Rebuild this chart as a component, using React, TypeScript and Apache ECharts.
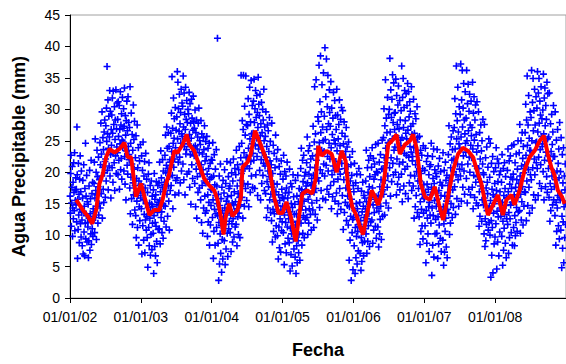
import React, { useEffect, useRef } from "react";
import * as echarts from "echarts";

// X-axis tick labels (one per year start)
const tickLabels = ["01/01/02", "01/01/03", "01/01/04", "01/01/05", "01/01/06", "01/01/07", "01/01/08"];
const firstYear = 2002;

const pw2002: number[][] = [
  [16.2, 13.5, 19.8, 22.7, 11.4, 15.1, 17.6, 20.9, 9.8, 14.3, 18.4, 12.6, 21.5, 16.8, 13.9, 23.1, 10.7, 17.2, 15.5, 19.1],
  [14.8, 17.3, 12.1, 27.2, 19.6, 6.3, 15.7, 10.9, 21.4, 13.2, 16.5, 8.8, 18.9, 14.1, 22.6, 11.8, 16.9, 9.7, 20.2, 13.6],
  [12.4, 8.3, 15.9, 18.7, 7.0, 13.8, 21.2, 10.5, 14.6, 6.7, 17.4, 11.9, 24.6, 9.4, 16.2, 13.1, 19.5, 8.9, 15.3, 12.0],
  [11.3, 14.9, 6.4, 9.1, 17.8, 12.7, 20.3, 7.6, 13.4, 15.8, 10.2, 21.9, 8.5, 12.1, 16.6, 11.0, 18.4, 9.8, 14.2, 13.0],
  [13.7, 18.2, 21.6, 10.4, 15.9, 25.3, 12.8, 17.1, 20.0, 9.3, 16.4, 23.5, 14.6, 19.3, 11.9, 17.7, 22.4, 13.2, 15.0, 18.8],
  [18.9, 24.7, 14.3, 21.2, 27.8, 16.6, 22.9, 19.4, 29.6, 12.7, 20.8, 25.5, 17.3, 23.6, 15.2, 26.4, 19.9, 28.3, 21.7, 16.0],
  [22.1, 27.4, 18.6, 30.2, 24.9, 36.8, 20.3, 26.1, 31.5, 17.2, 23.8, 28.9, 21.0, 25.6, 33.0, 19.4, 29.7, 22.8, 15.9, 26.8],
  [24.3, 29.1, 20.7, 31.8, 26.2, 18.4, 32.9, 23.0, 27.6, 21.5, 30.4, 17.1, 25.2, 28.3, 22.6, 33.1, 19.8, 26.9, 24.0, 31.0],
  [23.1, 28.4, 19.6, 31.2, 25.7, 21.9, 30.6, 17.3, 26.8, 24.5, 32.8, 20.4, 27.5, 22.2, 29.3, 18.9, 25.1, 31.9, 23.9, 27.0],
  [24.8, 30.1, 20.2, 27.3, 33.4, 22.5, 18.1, 29.0, 25.9, 15.6, 28.2, 23.4, 31.3, 21.1, 26.6, 19.7, 32.0, 24.1, 27.9, 22.8],
  [22.0, 27.1, 17.5, 33.6, 13.4, 24.6, 19.2, 29.4, 15.8, 21.3, 26.0, 11.7, 23.5, 18.3, 30.7, 16.4, 25.2, 20.5, 28.1, 14.0],
  [17.9, 22.3, 13.1, 25.8, 9.6, 19.0, 15.4, 27.5, 11.2, 20.7, 16.3, 23.9, 8.4, 18.6, 14.5, 21.8, 12.3, 17.0, 24.4, 15.9],
];
const pw2003: number[][] = [
  [18.1, 14.2, 22.6, 7.0, 16.7, 20.3, 11.5, 24.8, 15.6, 9.2, 19.4, 13.3, 21.7, 7.2, 17.5, 12.4, 23.0, 15.0, 10.8, 18.9],
  [13.0, 9.6, 16.8, 4.9, 14.4, 19.7, 11.2, 21.5, 8.3, 15.1, 12.7, 17.9, 6.8, 13.8, 10.1, 18.6, 14.9, 7.7, 16.2, 11.9],
  [14.5, 10.3, 17.2, 3.9, 13.1, 19.8, 8.2, 15.7, 12.0, 6.7, 16.4, 11.4, 18.5, 9.0, 14.8, 5.6, 13.6, 17.9, 10.9, 15.2],
  [14.1, 18.3, 11.0, 21.6, 15.5, 8.6, 16.9, 23.4, 12.8, 19.1, 13.7, 10.4, 17.6, 22.0, 15.0, 9.5, 20.2, 14.7, 12.2, 18.0],
  [18.4, 22.7, 14.6, 25.9, 19.9, 11.3, 21.1, 27.2, 16.5, 23.8, 13.0, 20.6, 17.8, 26.3, 15.4, 24.1, 10.8, 19.3, 22.0, 17.1],
  [21.6, 26.2, 17.9, 29.4, 23.3, 35.2, 19.5, 27.0, 14.2, 24.6, 31.8, 20.8, 25.4, 28.5, 22.1, 16.4, 30.3, 23.9, 18.7, 26.7],
  [23.0, 28.8, 19.1, 36.0, 25.3, 34.3, 21.6, 30.1, 16.7, 26.5, 32.4, 22.4, 27.7, 18.3, 29.5, 24.6, 33.2, 20.2, 26.1, 31.0],
  [25.7, 30.5, 21.3, 35.3, 27.2, 18.8, 32.6, 24.1, 29.2, 16.4, 26.8, 33.5, 22.9, 28.4, 23.6, 31.4, 19.7, 27.9, 25.0, 30.0],
  [24.5, 29.3, 20.1, 32.7, 26.0, 17.6, 30.9, 22.8, 27.8, 14.9, 25.4, 31.6, 21.2, 28.6, 23.3, 19.0, 26.7, 32.1, 24.0, 28.0],
  [22.6, 27.0, 18.2, 29.9, 24.2, 14.5, 26.3, 20.5, 28.3, 12.7, 23.7, 19.3, 25.6, 16.8, 27.8, 21.4, 30.2, 23.1, 17.5, 25.0],
  [19.8, 24.4, 15.6, 28.2, 21.2, 12.0, 26.1, 17.9, 22.9, 10.3, 20.4, 25.5, 14.3, 23.6, 18.6, 27.4, 16.2, 21.8, 13.5, 24.9],
  [18.3, 22.5, 13.9, 25.7, 19.7, 9.8, 16.4, 23.8, 12.1, 20.6, 15.2, 24.6, 8.4, 18.9, 21.4, 11.6, 17.3, 14.7, 22.0, 19.2],
];
const pw2004: number[][] = [
  [17.2, 21.9, 12.8, 24.7, 15.6, 6.3, 19.4, 10.6, 22.8, 14.1, 18.0, 8.4, 20.5, 16.3, 13.4, 23.6, 11.2, 17.8, 15.0, 41.3],
  [13.1, 8.7, 16.5, 2.8, 12.0, 19.4, 5.4, 14.7, 10.2, 21.3, 7.1, 15.8, 11.5, 4.1, 17.6, 9.3, 13.9, 6.2, 18.7, 12.4],
  [12.9, 16.7, 9.1, 20.4, 14.3, 5.3, 11.7, 18.2, 7.8, 15.4, 13.5, 21.7, 10.3, 16.1, 6.6, 14.9, 19.3, 11.0, 17.4, 12.2],
  [14.0, 17.8, 10.4, 21.5, 13.2, 7.4, 16.3, 19.9, 11.8, 15.1, 8.9, 18.6, 12.6, 22.1, 14.8, 9.7, 16.9, 13.7, 20.6, 11.3],
  [15.3, 19.6, 11.7, 23.5, 14.2, 8.3, 17.8, 21.2, 12.9, 16.6, 10.1, 20.4, 13.5, 24.1, 16.0, 9.6, 18.7, 14.8, 22.3, 35.4],
  [19.8, 24.6, 16.0, 28.2, 21.3, 12.7, 26.8, 35.4, 18.2, 23.1, 14.6, 30.5, 20.6, 25.9, 17.4, 35.3, 22.4, 27.6, 15.5, 21.0],
  [22.3, 27.4, 18.1, 31.7, 23.8, 14.5, 29.2, 20.6, 33.5, 25.3, 16.8, 28.0, 21.7, 34.6, 19.4, 26.1, 24.5, 30.6, 17.6, 23.0],
  [26.2, 31.3, 21.9, 34.8, 27.9, 17.4, 30.1, 24.2, 33.0, 19.6, 28.7, 25.4, 32.2, 22.5, 29.5, 16.3, 27.1, 35.1, 23.7, 30.8],
  [24.4, 29.0, 20.3, 32.4, 25.8, 15.6, 27.7, 22.0, 31.1, 18.2, 26.3, 23.1, 30.0, 19.5, 28.3, 21.4, 33.2, 25.0, 17.1, 27.2],
  [21.0, 25.7, 16.6, 29.6, 22.4, 12.8, 24.1, 18.5, 27.5, 14.3, 20.2, 26.6, 17.7, 23.3, 19.3, 28.7, 15.6, 21.8, 24.9, 13.6],
  [16.5, 21.2, 12.3, 27.8, 17.6, 8.9, 19.8, 14.1, 24.3, 10.6, 18.2, 23.0, 13.4, 15.3, 20.7, 9.7, 25.9, 16.9, 11.5, 22.1],
  [13.8, 18.1, 9.9, 23.6, 14.7, 6.2, 16.4, 11.3, 20.9, 8.0, 15.5, 12.6, 19.7, 7.3, 14.0, 21.8, 10.7, 17.3, 12.1, 16.0],
];
const pw2005: number[][] = [
  [14.6, 18.9, 10.4, 22.7, 15.8, 5.3, 13.2, 20.1, 8.6, 16.7, 12.0, 19.4, 7.2, 17.5, 14.1, 21.6, 11.3, 15.9, 9.5, 13.6],
  [12.6, 16.8, 8.8, 20.5, 13.7, 4.3, 11.1, 18.2, 6.9, 15.0, 10.2, 17.7, 5.1, 14.4, 12.0, 19.6, 9.4, 16.1, 7.8, 13.3],
  [10.8, 14.9, 6.5, 18.7, 11.6, 3.9, 13.4, 8.3, 16.2, 5.6, 12.2, 19.5, 9.1, 15.3, 7.2, 10.1, 17.4, 12.8, 6.0, 14.0],
  [16.3, 20.6, 11.9, 23.8, 17.2, 8.4, 14.6, 21.9, 10.3, 18.5, 13.1, 22.7, 15.4, 9.6, 19.4, 16.9, 12.5, 20.0, 14.0, 17.8],
  [17.0, 21.5, 12.8, 25.6, 18.3, 10.1, 15.7, 23.4, 11.9, 19.7, 14.2, 24.2, 16.5, 20.8, 13.3, 22.1, 17.9, 10.8, 19.0, 15.1],
  [18.0, 22.6, 14.0, 27.3, 19.5, 11.2, 16.8, 24.8, 33.6, 20.7, 13.3, 26.1, 17.4, 34.7, 21.9, 15.5, 23.7, 12.4, 19.1, 28.8],
  [22.8, 28.1, 18.6, 37.0, 24.7, 14.4, 31.2, 20.4, 38.5, 26.3, 17.1, 29.6, 23.5, 33.9, 19.8, 27.2, 15.8, 25.0, 35.8, 21.3],
  [23.3, 28.9, 19.4, 39.8, 25.2, 15.6, 32.0, 21.1, 38.0, 26.8, 17.3, 30.4, 22.5, 35.4, 20.2, 27.7, 16.5, 24.6, 33.1, 29.5],
  [22.1, 27.3, 17.9, 34.4, 23.9, 14.2, 30.2, 19.6, 26.0, 16.1, 28.6, 21.0, 32.7, 18.5, 25.1, 20.3, 31.4, 15.4, 24.5, 29.0],
  [21.7, 26.8, 16.7, 33.2, 23.4, 13.4, 29.1, 18.9, 25.3, 15.0, 27.6, 20.5, 31.5, 17.4, 24.2, 19.7, 28.4, 14.1, 22.9, 30.3],
  [21.4, 26.2, 16.3, 29.8, 22.7, 10.9, 24.5, 18.8, 28.0, 13.6, 20.6, 25.7, 15.2, 23.3, 17.5, 27.1, 12.3, 19.9, 24.0, 14.7],
  [16.2, 20.9, 11.6, 24.8, 17.3, 6.0, 14.5, 22.4, 9.2, 18.6, 13.0, 21.2, 2.8, 15.7, 19.5, 10.4, 23.3, 12.5, 4.5, 17.9],
];
const pw2006: number[][] = [
  [12.8, 16.9, 8.3, 21.4, 13.9, 3.9, 11.2, 18.3, 6.4, 15.0, 9.8, 19.7, 5.4, 14.2, 10.6, 17.4, 7.5, 13.1, 20.6, 11.7],
  [11.4, 15.2, 7.1, 19.6, 12.3, 4.4, 9.6, 17.0, 5.8, 13.7, 8.8, 18.4, 10.5, 14.6, 6.7, 16.3, 12.8, 9.0, 15.9, 11.0],
  [14.2, 18.6, 10.2, 23.5, 15.3, 7.1, 12.6, 20.7, 9.0, 16.8, 11.5, 21.9, 13.4, 17.7, 8.2, 19.3, 14.9, 22.6, 12.1, 16.0],
  [16.6, 20.8, 12.4, 23.9, 17.5, 8.7, 14.8, 22.2, 10.8, 18.9, 13.6, 21.3, 15.7, 19.6, 11.4, 24.4, 16.1, 9.5, 20.1, 14.3],
  [15.4, 19.9, 11.3, 24.6, 16.3, 8.1, 13.8, 21.6, 10.2, 17.7, 12.5, 22.8, 14.6, 18.8, 9.3, 20.5, 16.9, 25.1, 13.0, 17.2],
  [20.6, 25.5, 16.5, 30.1, 22.3, 13.2, 27.4, 18.7, 34.7, 23.8, 15.1, 28.6, 21.5, 26.3, 17.6, 31.9, 19.4, 24.7, 14.3, 29.2],
  [24.6, 30.0, 20.7, 38.1, 26.4, 16.2, 33.1, 22.3, 28.7, 18.5, 31.6, 25.3, 35.5, 21.4, 27.9, 19.6, 34.2, 23.5, 29.4, 26.8],
  [24.0, 29.5, 20.0, 34.8, 25.8, 16.4, 32.2, 22.1, 27.6, 18.1, 30.7, 23.9, 33.7, 19.2, 26.9, 21.3, 31.4, 17.2, 28.3, 25.1],
  [24.2, 29.8, 19.7, 36.9, 25.5, 15.3, 31.9, 21.6, 34.9, 27.1, 17.8, 30.3, 23.0, 33.0, 20.5, 28.2, 16.6, 26.2, 32.5, 22.7],
  [25.3, 30.6, 20.9, 34.1, 26.7, 15.8, 32.8, 22.4, 28.8, 18.3, 31.2, 24.1, 29.7, 19.5, 27.3, 23.2, 33.6, 17.1, 26.0, 21.8],
  [22.5, 27.7, 17.8, 31.6, 23.9, 12.7, 26.2, 19.4, 29.3, 14.5, 21.2, 28.5, 16.3, 24.8, 20.1, 30.4, 13.6, 25.5, 18.6, 23.0],
  [17.4, 21.9, 12.9, 25.7, 18.6, 8.5, 15.3, 23.5, 10.6, 19.8, 14.1, 22.7, 11.5, 16.5, 20.6, 9.4, 24.2, 13.5, 18.0, 15.8],
];
const pw2007: number[][] = [
  [15.9, 20.3, 11.5, 23.8, 16.8, 5.6, 13.9, 21.7, 8.7, 18.1, 12.7, 22.6, 10.2, 17.3, 14.5, 19.6, 7.4, 15.2, 20.9, 13.2],
  [16.4, 21.2, 11.9, 24.6, 17.6, 3.6, 14.3, 22.5, 8.4, 19.0, 13.1, 23.7, 6.5, 18.2, 15.5, 20.4, 10.2, 16.9, 12.5, 19.8],
  [14.6, 19.3, 10.3, 23.6, 15.7, 6.3, 12.9, 21.0, 8.6, 17.1, 11.6, 22.2, 13.8, 18.4, 9.5, 20.1, 16.3, 7.4, 14.0, 17.9],
  [13.4, 17.9, 9.2, 23.1, 14.5, 5.2, 11.8, 20.3, 7.3, 16.2, 10.6, 21.6, 12.7, 18.7, 8.1, 15.4, 19.5, 6.4, 14.1, 16.8],
  [17.9, 22.8, 13.5, 27.4, 19.1, 10.1, 16.2, 24.5, 11.9, 20.7, 15.0, 25.6, 18.6, 21.9, 12.8, 23.6, 17.2, 26.6, 14.4, 20.1],
  [22.1, 27.1, 17.7, 31.7, 23.7, 13.3, 29.3, 19.6, 36.9, 25.3, 15.8, 28.2, 21.3, 33.5, 18.8, 26.4, 14.6, 24.5, 30.4, 20.5],
  [23.8, 29.2, 19.4, 37.2, 25.6, 15.4, 31.5, 21.2, 36.2, 27.2, 17.6, 30.2, 22.6, 34.1, 20.2, 28.3, 16.5, 26.1, 32.8, 24.6],
  [23.2, 28.6, 19.0, 36.2, 25.0, 15.1, 30.9, 21.3, 34.0, 26.6, 17.3, 29.7, 22.4, 32.4, 20.0, 27.5, 16.4, 24.3, 31.3, 25.8],
  [22.3, 27.1, 17.6, 34.3, 23.7, 14.2, 29.4, 19.5, 32.0, 25.1, 16.0, 28.3, 21.0, 30.7, 18.4, 26.0, 15.1, 23.2, 31.2, 20.6],
  [19.3, 24.2, 14.7, 29.6, 20.6, 11.4, 16.9, 26.3, 13.0, 22.1, 17.8, 27.5, 18.5, 23.4, 12.2, 25.0, 15.6, 21.3, 28.4, 19.9],
  [14.8, 19.6, 10.2, 27.6, 15.9, 8.2, 12.6, 22.3, 9.1, 17.5, 11.7, 24.0, 13.9, 18.4, 16.6, 20.8, 10.8, 14.2, 25.3, 12.0],
  [14.6, 19.2, 10.0, 24.6, 15.5, 3.3, 12.3, 21.4, 6.8, 17.3, 11.2, 22.5, 4.0, 16.4, 13.5, 20.1, 8.6, 15.0, 18.2, 9.7],
];
const pw2008: number[][] = [
  [16.1, 20.7, 11.8, 23.9, 17.1, 4.6, 13.8, 22.1, 8.9, 18.5, 12.9, 21.4, 6.7, 15.4, 19.6, 10.5, 16.9, 14.3, 20.2, 13.0],
  [14.0, 18.4, 9.8, 22.8, 15.2, 5.2, 12.2, 20.6, 7.6, 16.3, 11.1, 21.5, 13.3, 17.4, 8.7, 19.3, 14.7, 6.4, 16.0, 12.6],
  [15.8, 20.3, 11.7, 23.7, 16.9, 7.1, 13.6, 21.8, 9.6, 18.1, 12.6, 22.6, 14.8, 19.2, 10.4, 17.4, 24.2, 15.2, 8.4, 18.9],
  [15.2, 19.7, 11.2, 24.4, 16.4, 8.3, 13.1, 21.5, 9.9, 17.6, 12.0, 22.9, 14.4, 18.8, 10.6, 20.5, 16.0, 25.0, 13.7, 17.0],
  [18.2, 23.1, 13.9, 27.6, 19.4, 10.3, 16.5, 25.0, 12.4, 21.0, 15.3, 26.3, 17.7, 22.2, 11.6, 24.1, 19.9, 14.6, 20.6, 16.9],
  [21.2, 26.3, 16.8, 30.8, 22.7, 12.3, 28.3, 18.6, 35.3, 24.3, 14.7, 27.5, 20.4, 32.2, 17.6, 25.4, 13.5, 23.5, 29.6, 19.6],
  [23.4, 28.7, 18.8, 36.2, 25.0, 14.3, 31.1, 20.7, 34.9, 26.6, 16.4, 29.8, 22.1, 33.2, 19.6, 27.5, 15.6, 24.7, 32.0, 21.5],
  [24.8, 30.2, 20.6, 36.0, 26.4, 16.3, 32.6, 22.4, 34.9, 27.8, 18.2, 31.3, 23.6, 29.1, 21.2, 33.6, 17.4, 25.7, 28.5, 24.1],
  [24.5, 29.9, 20.1, 35.6, 26.1, 15.6, 31.8, 21.9, 33.4, 27.4, 17.7, 30.6, 23.2, 28.4, 19.3, 34.3, 16.8, 25.3, 32.5, 22.6],
  [20.6, 25.6, 16.0, 32.6, 21.8, 12.2, 18.2, 27.7, 13.9, 23.3, 17.3, 29.2, 19.4, 24.4, 14.8, 26.4, 22.5, 30.6, 15.6, 20.0],
  [17.7, 22.5, 13.1, 29.6, 18.8, 8.4, 15.2, 25.1, 10.6, 20.2, 14.3, 26.8, 16.3, 21.4, 11.5, 23.7, 19.1, 9.4, 27.9, 16.0],
  [15.6, 20.1, 10.8, 25.5, 16.7, 4.8, 13.0, 22.8, 7.9, 18.3, 12.1, 23.9, 5.6, 14.5, 19.4, 9.6, 17.2, 21.3, 11.7, 15.0],
];
const yearlyData: number[][][] = [pw2002, pw2003, pw2004, pw2005, pw2006, pw2007, pw2008];

// Running mean (red line): dates and values
const maDates: string[] = [
  "2002-02-02", "2002-03-08", "2002-04-03", "2002-04-25", "2002-05-16", "2002-06-02", "2002-06-19", "2002-07-06",
  "2002-07-23", "2002-08-18", "2002-09-13", "2002-10-08", "2002-10-25", "2002-11-12", "2002-12-07", "2003-01-02",
  "2003-01-24", "2003-02-14", "2003-03-11", "2003-04-06", "2003-04-23", "2003-05-11", "2003-05-27", "2003-06-22",
  "2003-07-09", "2003-08-04", "2003-08-25", "2003-09-07", "2003-10-03", "2003-10-29", "2003-11-23", "2003-12-19",
  "2004-01-14", "2004-01-31", "2004-02-17", "2004-03-02", "2004-03-14", "2004-03-31", "2004-04-17", "2004-05-13",
  "2004-05-31", "2004-06-08", "2004-07-04", "2004-07-21", "2004-08-12", "2004-09-02", "2004-09-28", "2004-10-24",
  "2004-11-18", "2004-12-11", "2005-01-01", "2005-01-21", "2005-02-12", "2005-03-10", "2005-03-27", "2005-04-13",
  "2005-05-08", "2005-06-03", "2005-06-21", "2005-07-04", "2005-07-22", "2005-08-16", "2005-09-11", "2005-10-07",
  "2005-11-01", "2005-11-22", "2005-12-05", "2005-12-26", "2006-01-18", "2006-02-03", "2006-02-20", "2006-03-10",
  "2006-04-05", "2006-04-22", "2006-05-08", "2006-05-26", "2006-06-12", "2006-06-29", "2006-07-24", "2006-08-11",
  "2006-08-28", "2006-09-23", "2006-10-19", "2006-11-04", "2006-11-22", "2006-12-14", "2007-01-04", "2007-01-29",
  "2007-02-24", "2007-03-17", "2007-04-08", "2007-05-03", "2007-05-29", "2007-06-24", "2007-07-19", "2007-08-14",
  "2007-09-09", "2007-10-05", "2007-10-22", "2007-11-08", "2007-11-25", "2007-12-21", "2008-01-15", "2008-02-10",
  "2008-02-28", "2008-03-25", "2008-04-10", "2008-05-06", "2008-06-01", "2008-06-27", "2008-07-23", "2008-08-18",
  "2008-09-09", "2008-09-29", "2008-10-17", "2008-11-03", "2008-11-20", "2008-12-11", "2008-12-25",
];
const maValues: number[] = [
  15.6, 14.0, 13.0, 11.8, 14.0, 18.2, 19.7, 22.4,
  23.7, 23.1, 23.7, 24.7, 22.4, 22.4, 16.1, 18.2,
  15.6, 13.2, 14.0, 14.0, 15.6, 18.2, 19.7, 23.4,
  23.1, 24.4, 26.0, 24.4, 23.4, 21.1, 19.0, 17.9,
  17.1, 15.6, 13.0, 10.1, 13.0, 15.0, 13.0, 14.0,
  16.1, 20.8, 21.6, 22.9, 26.6, 25.0, 22.9, 20.8,
  16.1, 13.5, 13.5, 15.3, 13.0, 9.0, 13.0, 16.6,
  17.1, 16.6, 19.0, 24.2, 22.6, 23.4, 22.9, 20.0,
  23.4, 21.8, 17.7, 14.5, 13.0, 11.4, 10.1, 13.0,
  17.1, 16.1, 14.8, 16.4, 19.7, 24.4, 25.2, 26.0,
  22.9, 24.4, 25.0, 26.0, 23.9, 18.2, 16.1, 15.6,
  17.7, 15.0, 12.4, 16.1, 20.3, 22.9, 23.9, 23.4,
  22.4, 19.7, 18.2, 15.6, 13.2, 14.8, 16.4, 13.2,
  15.6, 16.4, 14.8, 17.1, 20.3, 22.4, 23.4, 25.0,
  25.8, 22.9, 20.8, 19.5, 17.1, 16.1, 15.0,
];

function isLeap(y: number) {
  return (y % 4 === 0 && y % 100 !== 0) || y % 400 === 0;
}
function dateToYear(s: string): number {
  const [y, m, d] = s.split("-").map(Number);
  const start = Date.UTC(y, 0, 1);
  const doy = (Date.UTC(y, m - 1, d) - start) / 86400000;
  return y + doy / (isLeap(y) ? 366 : 365);
}

const FONT = "'Liberation Sans', Arial, Helvetica, sans-serif";
const PLUS = "path://M2.7,0H4.3V7H2.7Z M0,2.7H7V4.3H0Z";

export default function App() {
  const ref = useRef<HTMLDivElement>(null);
  useEffect(() => {
    if (!ref.current) return;
    const chart = echarts.init(ref.current, undefined, { renderer: "svg" });

    const scatterData: number[][] = [];
    yearlyData.forEach((months, yi) => {
      months.forEach((vals, mi) => {
        vals.forEach((v, i) => {
          scatterData.push([firstYear + yi + (mi + (i + 0.5) / vals.length) / 12, v]);
        });
      });
    });
    const lineData = maDates.map((d, i) => [dateToYear(d), maValues[i]]);

    chart.setOption({
      animation: false,
      backgroundColor: "#ffffff",
      grid: {
        left: 70,
        right: -1,
        top: 15,
        bottom: 61,
        show: true,
        borderColor: "#a0a0a0",
        borderWidth: 1,
      },
      xAxis: {
        type: "value",
        min: 2002,
        max: 2009,
        interval: 1,
        axisLine: { show: true, lineStyle: { color: "#000", width: 1 } },
        axisTick: { show: true, length: 5, lineStyle: { color: "#000" } },
        axisLabel: {
          fontSize: 14,
          fontFamily: FONT,
          color: "#000",
          margin: 12,
          showMaxLabel: false,
          formatter: (v: number) => tickLabels[Math.round(v - firstYear)] ?? "",
        },
        splitLine: { show: false },
        name: "Fecha",
        nameLocation: "middle",
        nameGap: 43,
        nameTextStyle: { fontSize: 18, fontWeight: "bold", fontFamily: FONT, color: "#000" },
      },
      yAxis: {
        type: "value",
        min: 0,
        max: 45,
        interval: 5,
        axisLine: { show: true, lineStyle: { color: "#000", width: 1 } },
        axisTick: { show: true, length: 5, lineStyle: { color: "#000" } },
        axisLabel: { fontSize: 14, fontFamily: FONT, color: "#000", margin: 10 },
        splitLine: { show: false },
        name: "Agua Precipitable (mm)",
        nameLocation: "middle",
        nameGap: 42,
        nameTextStyle: { fontSize: 18, fontWeight: "bold", fontFamily: FONT, color: "#000" },
      },
      series: [
        {
          type: "scatter",
          data: scatterData,
          symbol: PLUS,
          symbolSize: 7,
          itemStyle: { color: "#0000ff", opacity: 1 },
          silent: true,
          z: 2,
        },
        {
          type: "line",
          data: lineData,
          showSymbol: false,
          symbol: "none",
          lineStyle: { color: "#ff0000", width: 4 },
          silent: true,
          z: 3,
        },
      ],
    });
    return () => chart.dispose();
  }, []);
  return (
    <div
      ref={ref}
      style={{ position: "absolute", left: 0, top: 0, width: 566, height: 364, background: "#fff" }}
    />
  );
}
